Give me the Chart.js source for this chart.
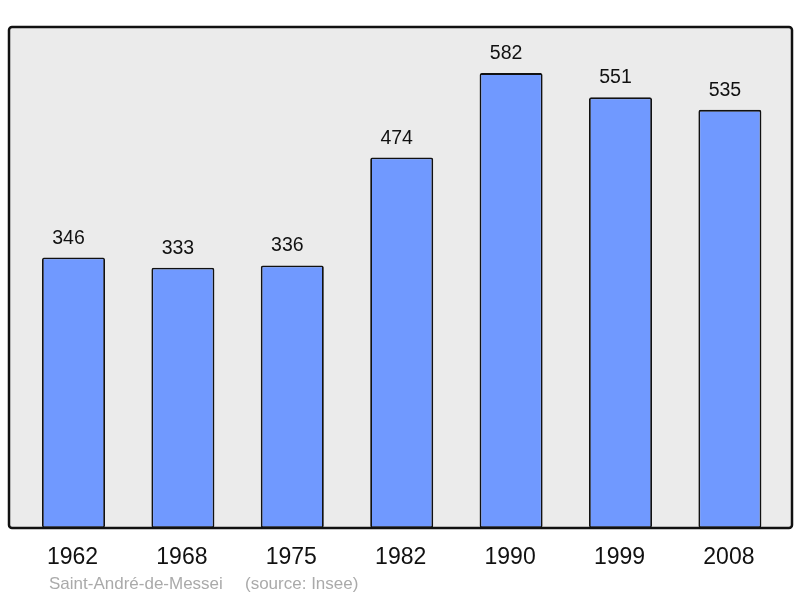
<!DOCTYPE html>
<html>
<head>
<meta charset="utf-8">
<script src="https://cdn.jsdelivr.net/npm/chart.js@4/dist/chart.umd.min.js"></script>
<style>
  html, body { margin: 0; padding: 0; background: #fff; }
  #wrap { width: 800px; height: 598px; }
</style>
</head>
<body>
<div id="wrap"><canvas id="popChart" width="800" height="598"></canvas></div>
<script>
const years = ['1962', '1968', '1975', '1982', '1990', '1999', '2008'];
const population = [346, 333, 336, 474, 582, 551, 535];
const townName = 'Saint-André-de-Messei';
const sourceNote = '(source: Insee)';

const FONT = '"Liberation Sans", Arial, sans-serif';

// frame, value labels, year labels and footer
const framePlugin = {
  id: 'frame',
  beforeDatasetsDraw(chart) {
    const { ctx, chartArea: a } = chart;
    const x0 = a.left - 9.8, x1 = a.right + 7.4, y0 = a.top, y1 = a.bottom;
    ctx.save();
    ctx.beginPath();
    ctx.roundRect(x0, y0, x1 - x0, y1 - y0, 3);
    ctx.fillStyle = '#ebebeb';
    ctx.fill();
    ctx.restore();
  },
  afterDraw(chart) {
    const { ctx, chartArea: a } = chart;
    const xs = chart.scales.x, ys = chart.scales.y;
    const x0 = a.left - 9.8, x1 = a.right + 7.4, y0 = a.top, y1 = a.bottom;
    ctx.save();
    ctx.beginPath();
    ctx.roundRect(x0, y0, x1 - x0, y1 - y0, 3);
    ctx.lineWidth = 2.5;
    ctx.strokeStyle = '#111';
    ctx.stroke();

    ctx.fillStyle = '#111';
    ctx.textAlign = 'center';
    ctx.textBaseline = 'alphabetic';
    ctx.font = '19.5px ' + FONT;
    population.forEach((v, i) => {
      ctx.fillText(String(v), xs.getPixelForValue(i) - 5, ys.getPixelForValue(v) - 14);
    });
    ctx.font = '23px ' + FONT;
    years.forEach((y, i) => {
      ctx.fillText(y, xs.getPixelForValue(i) - 1, a.bottom + 36);
    });

    ctx.textAlign = 'left';
    ctx.fillStyle = '#aaaaaa';
    ctx.font = '17px ' + FONT;
    ctx.fillText(townName, 49, 589);
    ctx.fillText(sourceNote, 245, 589);
    ctx.restore();
  }
};

new Chart(document.getElementById('popChart'), {
  type: 'bar',
  data: {
    labels: years,
    datasets: [{
      data: population,
      backgroundColor: '#7099ff',
      borderColor: '#111',
      borderWidth: 1.8,
      borderRadius: 2,
      borderSkipped: false,
      barPercentage: 0.576,
      categoryPercentage: 1,
    }],
  },
  options: {
    responsive: false,
    animation: false,
    layout: { padding: { left: 18.8, right: 15.4, top: 27, bottom: 70 } },
    plugins: { legend: { display: false }, tooltip: { enabled: false } },
    scales: {
      x: { display: false },
      y: { display: false, min: 0, max: 641 },
    },
  },
  plugins: [framePlugin],
});
</script>
</body>
</html>
